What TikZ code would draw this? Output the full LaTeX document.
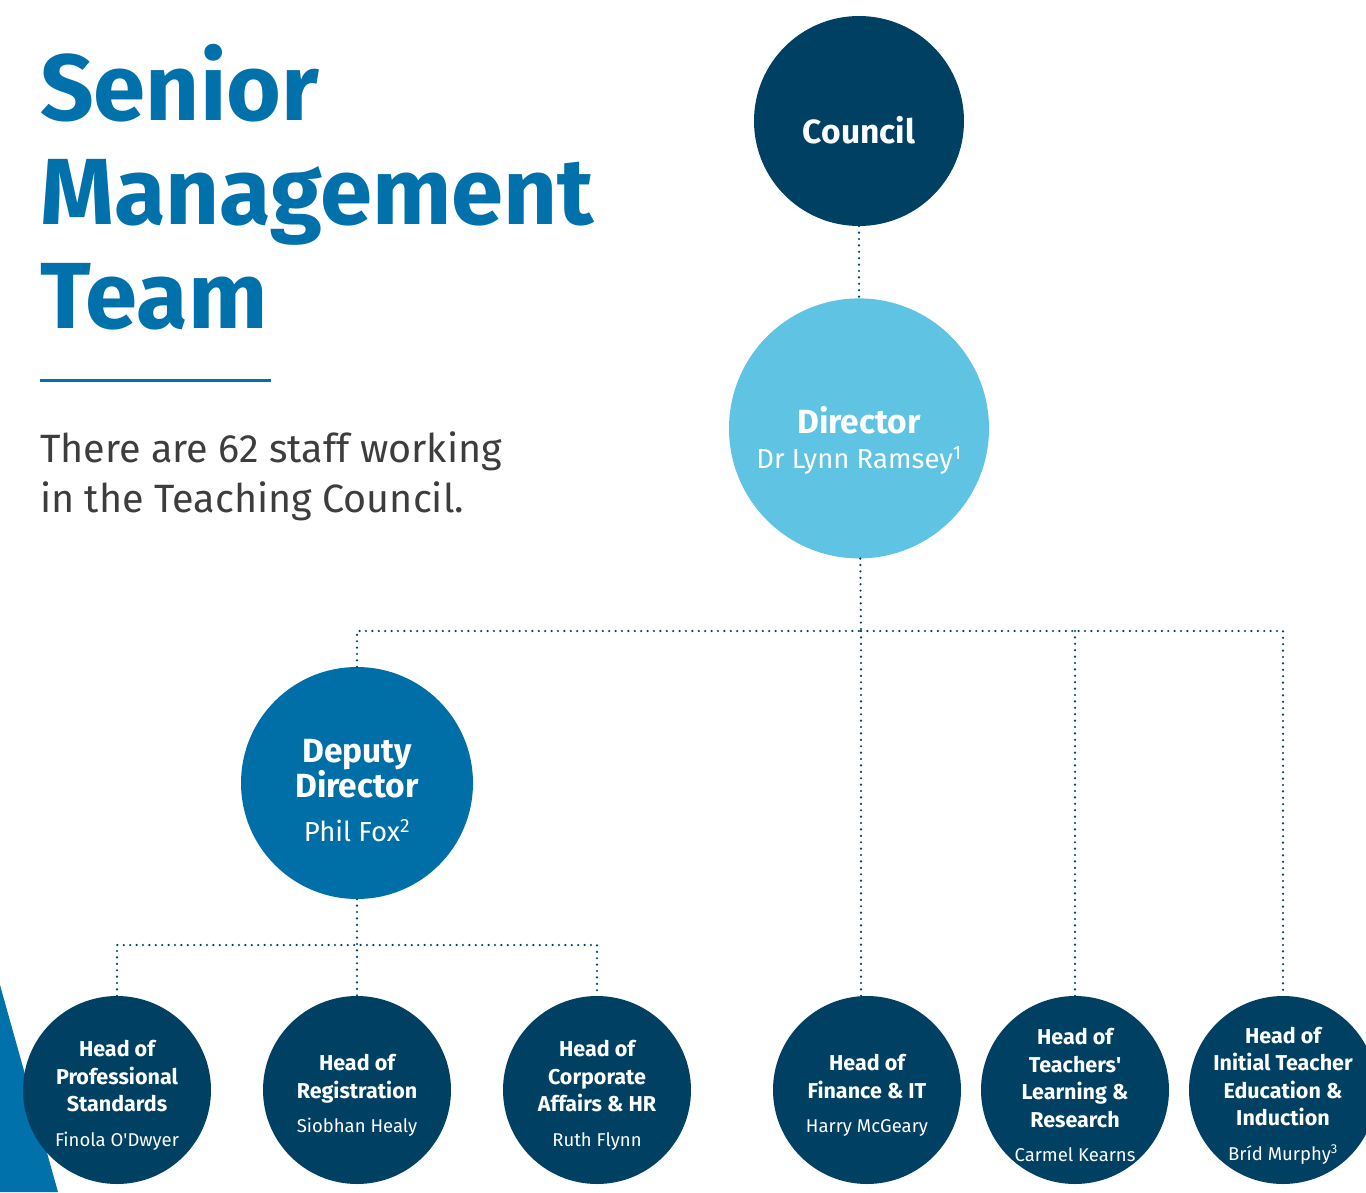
\documentclass[tikz,border=0pt]{standalone}
\usepackage{fontspec}
\setmainfont{Fira Sans}
\usetikzlibrary{positioning}

\definecolor{tcblue}{HTML}{0071AB}
\definecolor{tcnavy}{HTML}{004163}
\definecolor{tcdeep}{HTML}{006FA8}
\definecolor{tcsky}{HTML}{5FC3E3}
\definecolor{tcgrey}{HTML}{3D3D3D}

\newcommand{\bigtitle}{\fontsize{94}{104}\selectfont\bfseries}
\newcommand{\subtitle}{\fontsize{39.5}{50}\selectfont}
\newcommand{\rolebig}{\fontsize{33.5}{35}\selectfont\bfseries}
\newcommand{\whobig}{\fontsize{27.5}{30}\selectfont\mdseries}
\newcommand{\rolefont}{\fontsize{21.5}{27.5}\selectfont\bfseries}
\newcommand{\whofont}{\fontsize{18.5}{27.5}\selectfont\mdseries}
\newcommand{\topgap}[1]{\rule{0pt}{#1}}

\begin{document}
\begin{tikzpicture}[x=1pt,y=-1pt,node distance=72pt]
\tikzstyle{v}=[circle,inner sep=0pt,text=white,align=center]
\tikzstyle{head}=[v,fill=tcnavy,minimum size=188pt,inner sep=-15pt,font=\rolefont]
\tikzstyle{link}=[draw=tcnavy,line width=2.4pt,line cap=round,dash pattern=on 0pt off 6.4pt]
\useasboundingbox[fill=white] (0,0) rectangle (1366,1192);

% left panel
\fill[tcblue] (0,985) -- (58,1192) -- (0,1192) -- cycle;
\node[anchor=base west,inner sep=0pt,align=left,text=tcblue,font=\bigtitle] (title) at (40,328) {Senior\\Management\\Team};
\draw[tcblue,line width=3pt] (40,380) -- (271,380);
\node[anchor=base west,inner sep=0pt,align=left,text=tcgrey,font=\subtitle] (staff) at (40,512) {There are 62 staff working\\in the Teaching Council.};

% top of the tree
\node[v,fill=tcnavy,minimum size=210pt,font=\rolebig] (council) at (859,121) {\topgap{45pt}Council};
\node[v,fill=tcsky,minimum size=260pt,below=72pt of council,font=\rolebig] (director) {\topgap{51pt}Director\\{\whobig Dr Lynn Ramsey\textsuperscript{1}}};
\node[v,fill=tcdeep,minimum size=232pt,font=\rolebig] (deputy) at (357,783) {\topgap{39pt}Deputy\\Director\\[9pt]{\whobig Phil Fox\textsuperscript{2}}};

% heads
\node[head] (head1) at (117,1090) {\topgap{27pt}Head of\\Professional\\Standards\\[7pt]{\whofont Finola O\textquotesingle Dwyer}};
\node[head] (head2) at (357,1090) {\topgap{27pt}Head of\\Registration\\[7pt]{\whofont Siobhan Healy}};
\node[head] (head3) at (597,1090) {\topgap{27pt}Head of\\Corporate\\Affairs \& HR\\[7pt]{\whofont Ruth Flynn}};
\node[head] (head4) at (867,1090) {\topgap{27pt}Head of\\Finance \& IT\\[7pt]{\whofont Harry McGeary}};
\node[head] (head5) at (1075,1090) {\topgap{27pt}Head of\\Teachers\textquotesingle\\Learning \&\\Research\\[7pt]{\whofont Carmel Kearns}};
\node[head] (head6) at (1283,1090) {\topgap{27pt}Head of\\Initial Teacher\\Education \&\\Induction\\[7pt]{\whofont Br\'id Murphy\textsuperscript{3}}};

% dotted lines
\coordinate (bus) at (861,631);
\coordinate (dbus) at (357,945);
\draw[link] (council) -- (director);
\draw[link] (director) -- (bus);
\draw[link] (deputy) |- (bus);
\draw[link] (bus) -| (head6);
\draw[link] (bus) -- (bus |- head4.north);
\draw[link] (bus -| head5) -- (head5);
\draw[link] (deputy) -- (head2);
\draw[link] (head1) |- (dbus) -| (head3);
\end{tikzpicture}
\end{document}
